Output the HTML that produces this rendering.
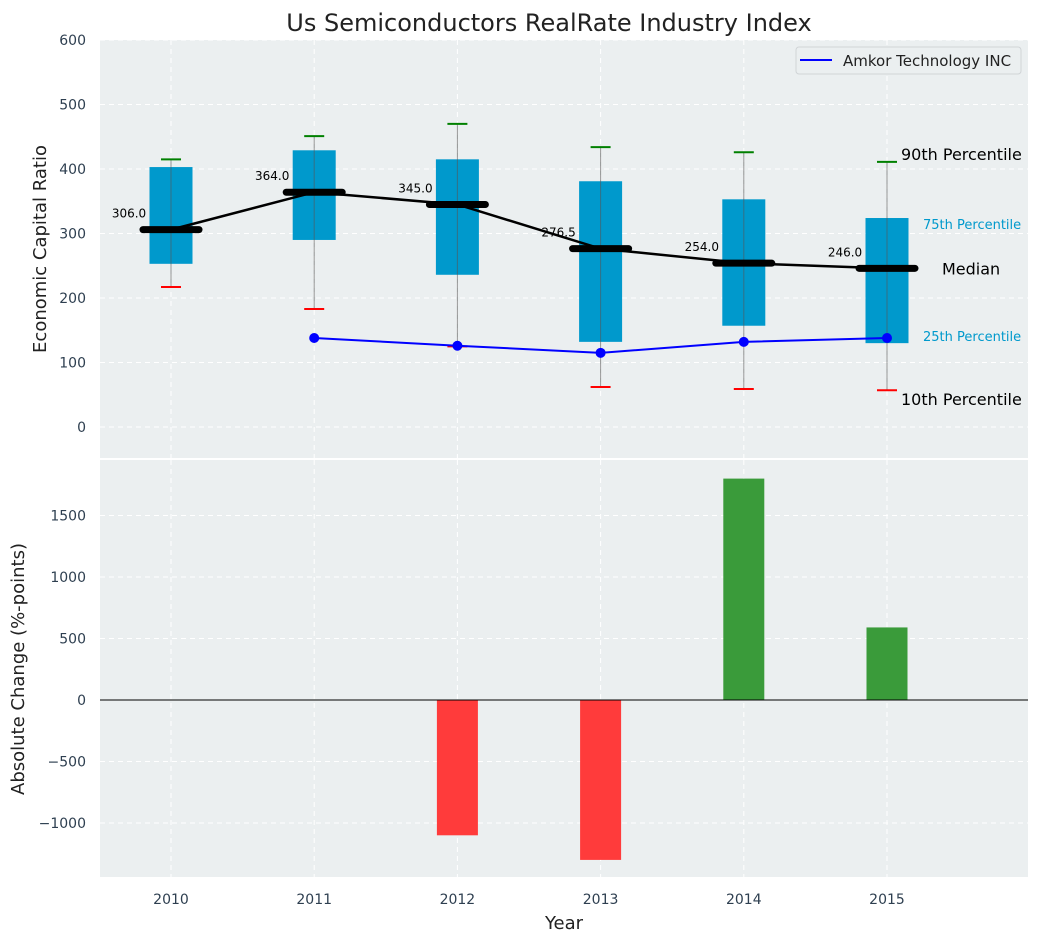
<!DOCTYPE html>
<html><head><meta charset="utf-8"><style>
body{margin:0;background:#fff;font-family:"DejaVu Sans","Liberation Sans",sans-serif;}
svg text{font-family:"DejaVu Sans","Liberation Sans",sans-serif;}
</style></head><body>
<svg id="chart" width="1039" height="942" xmlns="http://www.w3.org/2000/svg"></svg>
<script>
const years=[2010,2011,2012,2013,2014,2015];
const p10=[217,183,125,62,59,57];
const q1=[253,290,236,132,157,130];
const med=[306,364,345,276.5,254,246];
const q3=[403,429,415,381,353,324];
const p90=[415,451,470,434,426,411];
const amkorYears=[2011,2012,2013,2014,2015];
const amkor=[138,126,115,132,138];
const changes=[0,0,-1100,-1300,1800,590];
const topTicks=[0,100,200,300,400,500,600];
const botTicks=[-1000,-500,0,500,1000,1500];

const NS="http://www.w3.org/2000/svg";
const svg=document.getElementById('chart');
function el(t,a,txt){const e=document.createElementNS(NS,t);for(const k in a)e.setAttribute(k,a[k]);if(txt!==undefined)e.textContent=txt;svg.appendChild(e);return e;}
const X=y=>171+(y-2010)*143.2;
const YT=v=>427-v*0.645;
const YB=v=>700-v*0.123;
const L=100,R=1028;

let e;
e=el('rect',{x:L,y:40,width:R-L,height:418,fill:'#ebeff0'});


e=el('rect',{x:L,y:460,width:R-L,height:417,fill:'#ebeff0'});



years.forEach(y=>{
  el('line',{x1:X(y),x2:X(y),y1:40,y2:458,stroke:'#fff','stroke-dasharray':'5,4','stroke-width':1});
  el('line',{x1:X(y),x2:X(y),y1:460,y2:877,stroke:'#fff','stroke-dasharray':'5,4','stroke-width':1});
  e=el('text',{x:X(y),y:904,'font-size':14,fill:'#2e3f50','text-anchor':'middle'},String(y));
  
  
});
topTicks.forEach(t=>{
  el('line',{x1:L,x2:R,y1:YT(t),y2:YT(t),stroke:'#fff','stroke-dasharray':'5,4'});
  e=el('text',{x:86,y:YT(t)+5,'font-size':14,fill:'#2e3f50','text-anchor':'end'},String(t));
  
  
});
botTicks.forEach(t=>{
  el('line',{x1:L,x2:R,y1:YB(t),y2:YB(t),stroke:'#fff','stroke-dasharray':'5,4'});
  e=el('text',{x:86,y:YB(t)+5,'font-size':14,fill:'#2e3f50','text-anchor':'end'},(t<0?'\u2212'+(-t):String(t)));
  
  
});

years.forEach((y,i)=>{
  const x=X(y),w=43;
  e=el('rect',{x:x-w/2,y:YT(q3[i]),width:w,height:YT(q1[i])-YT(q3[i]),fill:'#0099cc'});
  
  
  el('line',{x1:x,x2:x,y1:YT(p90[i]),y2:YT(p10[i]),stroke:'#555','stroke-opacity':0.6,'stroke-width':1});
  e=el('line',{x1:x-10,x2:x+10,y1:YT(p90[i]),y2:YT(p90[i]),stroke:'green','stroke-width':2});
  
  
  e=el('line',{x1:x-10,x2:x+10,y1:YT(p10[i]),y2:YT(p10[i]),stroke:'red','stroke-width':2});
  
  
});
e=el('polyline',{points:years.map((y,i)=>X(y)+','+YT(med[i])).join(' '),fill:'none',stroke:'#000','stroke-width':2.5});


years.forEach((y,i)=>{
  e=el('line',{x1:X(y)-28,x2:X(y)+28,y1:YT(med[i]),y2:YT(med[i]),stroke:'#000','stroke-width':7,'stroke-linecap':'round'});
  
  
  e=el('text',{x:X(y)-42,y:YT(med[i])-12,'font-size':12,fill:'#000','text-anchor':'middle'},med[i].toFixed(1));
  
  
});
e=el('polyline',{points:amkorYears.map((y,i)=>X(y)+','+YT(amkor[i])).join(' '),fill:'none',stroke:'blue','stroke-width':2});


amkorYears.forEach((y,i)=>{
  e=el('circle',{cx:X(y),cy:YT(amkor[i]),r:5,fill:'blue'});
  
  
});
const last=years.length-1,lx=X(years[last]);
[['90th Percentile',lx+14,YT(p90[last])-2,16,'#000','start'],
 ['75th Percentile',lx+36,YT(q3[last])+11,13,'#0099cc','start'],
 ['Median',lx+55,YT(med[last])+6,16,'#000','start'],
 ['25th Percentile',lx+36,YT(q1[last])-2,13,'#0099cc','start'],
 ['10th Percentile',lx+14,YT(p10[last])+15,16,'#000','start']].forEach(a=>{
  e=el('text',{x:a[1],y:a[2],'font-size':a[3],fill:a[4],'text-anchor':a[5]},a[0]);
  
  
});
e=el('rect',{x:796,y:47,width:225,height:27,rx:3,fill:'#ebeff0',stroke:'#d0d4d6'});


el('line',{x1:800,x2:832,y1:60,y2:60,stroke:'blue','stroke-width':2});
e=el('text',{x:843,y:66,'font-size':15,fill:'#222'},'Amkor Technology INC');



years.forEach((y,i)=>{
  const v=changes[i];if(v===0)return;
  const w=41;
  e=el('rect',{x:X(y)-w/2,y:Math.min(YB(v),YB(0)),width:w,height:Math.abs(YB(v)-YB(0)),fill:v<0?'#ff3b3b':'#3a9b3a'});
  
  
});
el('line',{x1:L,x2:R,y1:YB(0),y2:YB(0),stroke:'#000','stroke-width':1});

e=el('text',{x:549,y:31,'font-size':24,fill:'#222','text-anchor':'middle'},'Us Semiconductors RealRate Industry Index');


e=el('text',{x:46,y:249,'font-size':18,fill:'#222','text-anchor':'middle',transform:'rotate(-90 46 249)'},'Economic Capital Ratio');


e=el('text',{x:24,y:669,'font-size':18,fill:'#222','text-anchor':'middle',transform:'rotate(-90 24 669)'},'Absolute Change (%-points)');


e=el('text',{x:564,y:929,'font-size':18,fill:'#222','text-anchor':'middle'},'Year');


</script>
</body></html>
